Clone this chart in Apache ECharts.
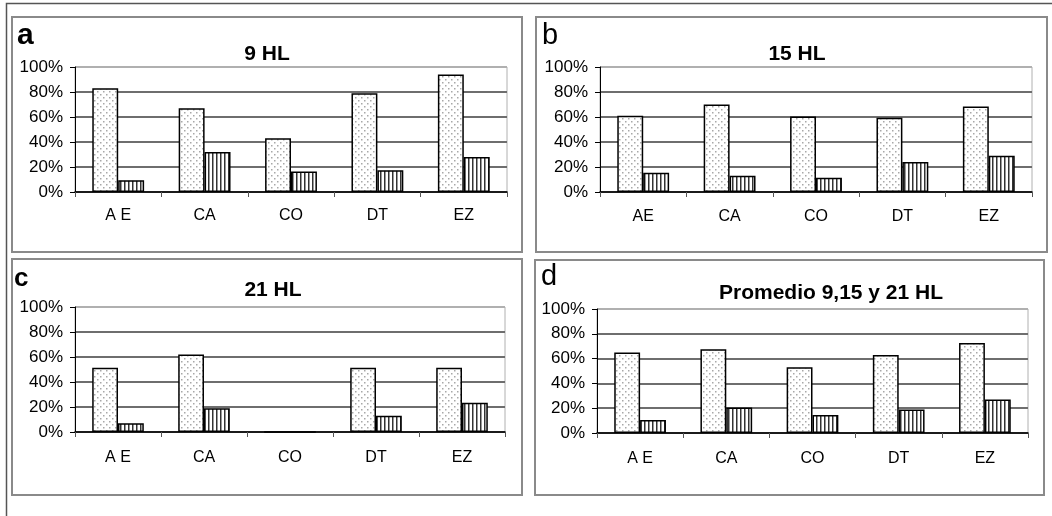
<!DOCTYPE html>
<html><head><meta charset="utf-8">
<script src="https://cdn.jsdelivr.net/npm/echarts@6/dist/echarts.min.js"></script>
<style>html,body{margin:0;padding:0;background:#fff}#c{width:1052px;height:516px}</style>
</head><body><div id="c"></div>
<script>
// ---- data ----
const categoriesA = ['A E','CA','CO','DT','EZ'];
const categoriesB = ['AE','CA','CO','DT','EZ'];
const categoriesC = ['A E','CA','CO','DT','EZ'];
const categoriesD = ['A E','CA','CO','DT','EZ'];
const yMin = 0, yMax = 100, yStep = 20;
const titles = ['9 HL','15 HL','21 HL','Promedio 9,15 y 21 HL'];
const letters = ['a','b','c','d'];
const dotted9   = [83, 67, 43, 79, 94];
const striped9  = [9.5, 32, 16.5, 17.5, 28];
const dotted15  = [61, 70, 60.5, 59.5, 68.5];
const striped15 = [15.5, 13, 11.5, 24, 29];
const dotted21  = [51.5, 62, 0, 51.5, 51.5];
const striped21 = [7, 19, 0, 13, 23.5];
const dottedAvg  = [65, 67.5, 53, 63, 72.5];
const stripedAvg = [10.5, 20.5, 14.5, 19, 27];

// ---- patterns ----
function dotCanvas(){
  const c=document.createElement('canvas'); c.width=6; c.height=6;
  const g=c.getContext('2d'); g.fillStyle='#fff'; g.fillRect(0,0,6,6);
  g.fillStyle='#a8a8a8'; g.fillRect(1,1,1.5,1.5); g.fillRect(4,4,1.5,1.5);
  return c;
}
function stripeCanvas(){
  const c=document.createElement('canvas'); c.width=4; c.height=4;
  const g=c.getContext('2d'); g.fillStyle='#fff'; g.fillRect(0,0,4,4);
  g.fillStyle='#333'; g.fillRect(0,0,1.5,4);
  return c;
}
const dotPat = {image: dotCanvas(), repeat:'repeat'};
const stripePat = {image: stripeCanvas(), repeat:'repeat'};

const FONT = '"Liberation Sans", Arial, sans-serif';
const panels = [
  {cats:categoriesA, d:dotted9, s:striped9, box:[12,17,510,235], grid:{left:75,top:67,width:432,height:125}, title:[267,54], letter:[17,36,'bold 30px '], lm:16},
  {cats:categoriesB, d:dotted15, s:striped15, box:[536,17,511,235], grid:{left:600,top:67,width:432,height:125}, title:[797,54], letter:[542,36,'29px '], lm:17},
  {cats:categoriesC, d:dotted21, s:striped21, box:[12,259,510,236], grid:{left:75,top:307,width:430,height:125}, title:[273,290], letter:[14,279,'bold 26px '], lm:18},
  {cats:categoriesD, d:dottedAvg, s:stripedAvg, box:[535,260,509,235], grid:{left:597,top:309,width:431,height:124}, title:[831,293], letter:[541,277,'29px '], lm:18}
];

const grids=[], xAxes=[], yAxes=[], series=[], graphics=[];
graphics.push({type:'polyline', shape:{points:[[6.5,516],[6.5,3.5],[1052,3.5]]}, style:{fill:null, stroke:'#555', lineWidth:1.5}});
panels.forEach((p,i)=>{
  grids.push(Object.assign({show:true, borderColor:'#b0b0b0', borderWidth:1, backgroundColor:'transparent'}, p.grid));
  xAxes.push({type:'category', gridIndex:i, data:p.cats,
    axisLine:{lineStyle:{color:'#000', width:1.5}},
    axisTick:{show:true, length:5, lineStyle:{color:'#555'}},
    axisLabel:{color:'#000', fontSize:16, fontFamily:FONT, margin:p.lm},
    splitLine:{show:false}});
  yAxes.push({type:'value', gridIndex:i, min:yMin, max:yMax, interval:yStep,
    axisLine:{show:true, lineStyle:{color:'#000', width:1}},
    axisTick:{show:true, length:5, lineStyle:{color:'#000'}},
    axisLabel:{formatter:'{value}%', color:'#000', fontSize:17, fontFamily:FONT, margin:12},
    splitLine:{show:true, lineStyle:{color:['#6e6e6e','#6e6e6e','#6e6e6e','#6e6e6e','#6e6e6e','#b0b0b0'], width:2}}});
  series.push({type:'bar', xAxisIndex:i, yAxisIndex:i, data:p.d, barWidth:'30%', barGap:'0%',
    itemStyle:{color:dotPat, borderColor:'#000', borderWidth:1.5}, silent:true});
  series.push({type:'bar', xAxisIndex:i, yAxisIndex:i, data:p.s, barWidth:'30%', barGap:'0%',
    itemStyle:{color:stripePat, borderColor:'#000', borderWidth:1.5}, silent:true});
  const b=p.box;
  graphics.push({type:'rect', shape:{x:b[0],y:b[1],width:b[2],height:b[3]}, style:{fill:null, stroke:'#8a8a8a', lineWidth:2}});
  graphics.push({type:'text', x:p.title[0], y:p.title[1], style:{text:titles[i], font:'bold 21px '+FONT, fill:'#000', align:'center', verticalAlign:'middle'}});
  graphics.push({type:'text', x:p.letter[0], y:p.letter[1], style:{text:letters[i], font:p.letter[2]+FONT, fill:'#000', align:'left', verticalAlign:'middle'}});
});

const chart = echarts.init(document.getElementById('c'), null, {renderer:'canvas'});
chart.setOption({animation:false, grid:grids, xAxis:xAxes, yAxis:yAxes, series:series, graphic:graphics});
</script></body></html>
